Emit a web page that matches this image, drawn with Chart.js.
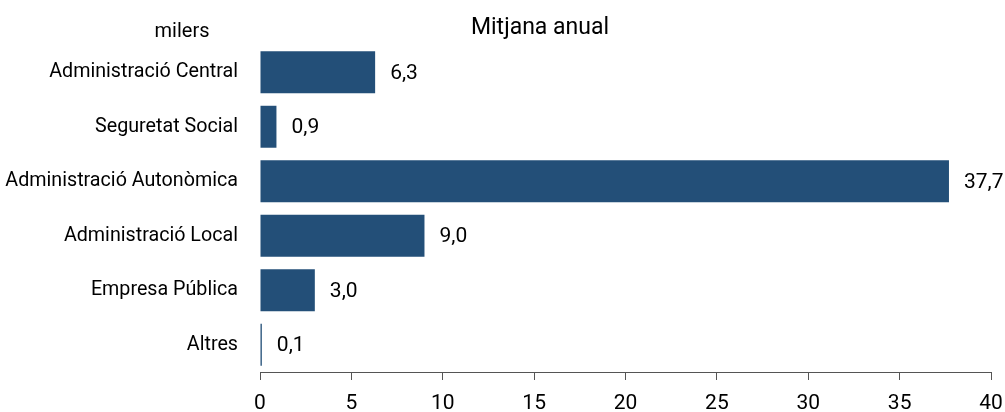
<!DOCTYPE html>
<html>
<head>
<meta charset="utf-8">
<script src="https://cdn.jsdelivr.net/npm/chart.js@4"></script>
<style>
  html, body { margin: 0; padding: 0; background: #fff; }
  #wrap { width: 1005px; height: 412px; }
</style>
</head>
<body>
<div id="wrap"><canvas id="chart" width="1005" height="412"></canvas></div>
<script>
// dades: ocupats mitjana anual (milers)
const categories = ['Administració Central', 'Seguretat Social', 'Administració Autonòmica', 'Administració Local', 'Empresa Pública', 'Altres'];
const values = [6.3, 0.9, 37.7, 9.0, 3.0, 0.1];
const xTicks = [0, 5, 10, 15, 20, 25, 30, 35, 40];

const FONT = "Roboto, 'Liberation Sans', sans-serif";
const barColor = '#234f78';

// etiquetes de valor i textos de capçalera
const labelsPlugin = {
  id: 'labels',
  afterDatasetsDraw(chart) {
    const ctx = chart.ctx;
    const meta = chart.getDatasetMeta(0);
    ctx.save();
    ctx.fillStyle = '#000';
    ctx.font = '21px ' + FONT;
    ctx.textBaseline = 'middle';
    ctx.textAlign = 'left';
    meta.data.forEach((bar, i) => {
      ctx.fillText(values[i].toFixed(1).replace('.', ','), bar.x + 15, bar.y + 1);
    });
    ctx.textAlign = 'center';
    ctx.font = '20px ' + FONT;
    ctx.fillText('milers', 182, 32);
    ctx.font = '23px ' + FONT;
    ctx.fillText('Mitjana anual', 540, 28);
    ctx.restore();
  }
};

new Chart(document.getElementById('chart'), {
  type: 'bar',
  data: {
    labels: categories,
    datasets: [{
      data: values,
      backgroundColor: barColor,
      borderWidth: 0,
      barPercentage: 0.77,
      categoryPercentage: 1
    }]
  },
  options: {
    indexAxis: 'y',
    responsive: false,
    animation: false,
    layout: { padding: { top: 45, right: 14, left: 0, bottom: 0 } },
    plugins: {
      legend: { display: false },
      tooltip: { enabled: false }
    },
    scales: {
      x: {
        min: 0,
        max: 40,
        afterBuildTicks(scale) {
          scale.ticks = xTicks.map(v => ({ value: v }));
        },
        afterFit(scale) {
          scale.height = 40;
          scale.paddingLeft = 0;
          scale.paddingRight = 0;
        },
        grid: { drawOnChartArea: false, drawTicks: true, tickLength: 8, color: '#555' },
        border: { display: true, color: '#555', width: 1 },
        ticks: { color: '#000', font: { family: FONT, size: 21 }, padding: 11, maxRotation: 0 }
      },
      y: {
        afterFit(scale) { scale.width = 260; },
        grid: { display: false, drawTicks: false },
        border: { display: false },
        ticks: { color: '#000', font: { family: FONT, size: 19.7 }, padding: 22 }
      }
    }
  },
  plugins: [labelsPlugin]
});
</script>
</body>
</html>
